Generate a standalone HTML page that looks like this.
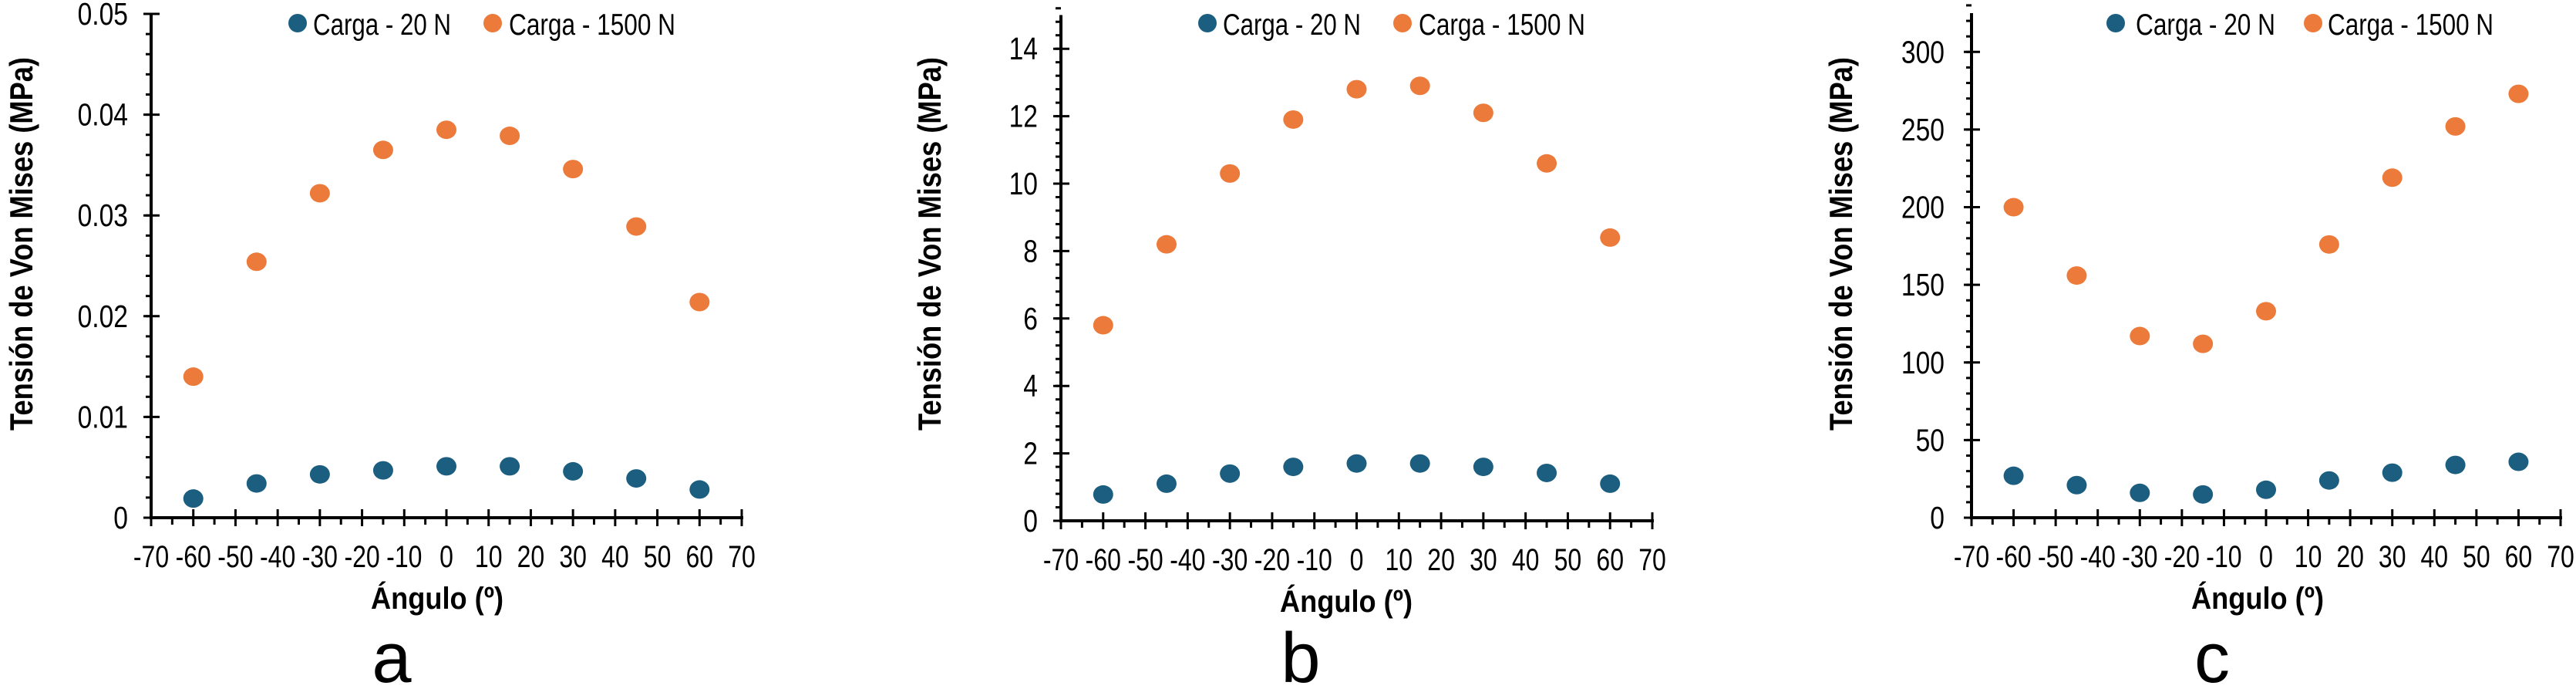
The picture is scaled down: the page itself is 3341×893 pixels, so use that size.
<!DOCTYPE html>
<html><head><meta charset="utf-8"><style>
html,body{margin:0;padding:0;background:#fff;}
svg{display:block;font-family:"Liberation Sans",sans-serif;}
</style></head><body>
<svg id="fig" width="3341" height="893" viewBox="0 0 3341 893"></svg>
<script>
const angles = [-60, -45, -30, -15, 0, 15, 30, 45, 60];
const xTicks = [-70, -60, -50, -40, -30, -20, -10, 0, 10, 20, 30, 40, 50, 60, 70];
const seriesNames = ["Carga - 20 N", "Carga - 1500 N"];
const aLow = [0.0019, 0.0034, 0.0043, 0.0047, 0.0051, 0.0051, 0.0046, 0.0039, 0.0028];
const aHigh = [0.0140, 0.0254, 0.0322, 0.0365, 0.0385, 0.0379, 0.0346, 0.0289, 0.0214];
const aTicks = ["0", "0.01", "0.02", "0.03", "0.04", "0.05"];
const bLow = [0.78, 1.1, 1.4, 1.6, 1.7, 1.7, 1.6, 1.42, 1.1];
const bHigh = [5.8, 8.2, 10.3, 11.9, 12.8, 12.9, 12.1, 10.6, 8.4];
const bTicks = ["0", "2", "4", "6", "8", "10", "12", "14"];
const cLow = [27, 21, 16, 15, 18, 24, 29, 34, 36];
const cHigh = [200, 156, 117, 112, 133, 176, 219, 252, 273];
const cTicks = ["0", "50", "100", "150", "200", "250", "300"];

const NS = "http://www.w3.org/2000/svg";
const svg = document.getElementById("fig");
const COL = ["#1b5e7f", "#ec7a3b"];
function mk(tag, attrs, parent) {
  const e = document.createElementNS(NS, tag);
  for (const k in attrs) e.setAttribute(k, attrs[k]);
  parent.appendChild(e);
  return e;
}
const panels = [
  {id:"a", ax:196, x1:962, y0:671, ymax:0.05, yTop:18, yTicks:aTicks, major:0.01, minor:0.002, low:aLow, high:aHigh,
   leg:[386,406,585,639,660,876], titleX:28, tickR:166, xTitle:567, letterX:508},
  {id:"b", ax:1376, x1:2143, y0:675, ymax:15, yTop:19.5, yTicks:bTicks, major:2, minor:0.4, low:bLow, high:bHigh,
   leg:[1566,1586,1765,1819,1840,2056], titleX:1206, tickR:1346, xTitle:1746, letterX:1687},
  {id:"c", ax:2557, x1:3321, y0:671, ymax:325, yTop:17, yTicks:cTicks, major:50, minor:10, low:cLow, high:cHigh,
   leg:[2744,2770,2951,3000,3019,3234], titleX:2388, tickR:2522, xTitle:2928, letterX:2869}
];
panels.forEach(p => {
  const g = mk("g", {}, svg);
  
  
  const xs = v => p.ax + (v + 70) / 140 * (p.x1 - p.ax);
  const ys = v => p.y0 - v / p.ymax * (p.y0 - p.yTop);
  const ya = mk("line", {x1:p.ax, y1:p.yTop, x2:p.ax, y2:p.y0, stroke:"#000", "stroke-width":4}, g);
  
  
  const xa = mk("line", {x1:p.ax-2, y1:p.y0, x2:p.x1+2, y2:p.y0, stroke:"#000", "stroke-width":4}, g);
  
  
  const nMin = Math.round(p.ymax / p.minor);
  for (let i = 1; i <= nMin; i++) {
    const v = i * p.minor;
    mk("line", {x1:p.ax-7, y1:ys(v), x2:p.ax, y2:ys(v), stroke:"#000", "stroke-width":3}, g);
  }
  p.yTicks.forEach(t => {
    const v = parseFloat(t);
    mk("line", {x1:p.ax-10, y1:ys(v), x2:p.ax+11, y2:ys(v), stroke:"#000", "stroke-width":3}, g);
    const tx = mk("text", {x:0, y:0, "text-anchor":"end", "font-size":41,
      transform:`translate(${p.tickR},${ys(v)+14}) scale(0.82,1)`}, g);
    tx.textContent = t;
    
    
  });
  xTicks.forEach(t => {
    mk("line", {x1:xs(t), y1:p.y0-11, x2:xs(t), y2:p.y0+11, stroke:"#000", "stroke-width":3}, g);
    if (t < 70) mk("line", {x1:xs(t+5), y1:p.y0, x2:xs(t+5), y2:p.y0+9, stroke:"#000", "stroke-width":3}, g);
    const tx = mk("text", {x:0, y:0, "text-anchor":"middle", "font-size":40,
      transform:`translate(${xs(t)},${p.y0+64}) scale(0.8,1)`}, g);
    tx.textContent = t;
    
    
  });
  [p.low, p.high].forEach((arr, si) => {
    arr.forEach((v, i) => {
      const c = mk("ellipse", {cx:xs(angles[i]), cy:ys(v), rx:13, ry:12, fill:COL[si]}, g);
      
      
    });
  });
  const L = p.leg;
  [[L[0], L[1], L[2]], [L[3], L[4], L[5]]].forEach((e, si) => {
    const d = mk("ellipse", {cx:e[0], cy:30, rx:12, ry:12, fill:COL[si]}, g);
    
    
    const t = mk("text", {x:e[1], y:45, "font-size":39, textLength:e[2]-e[1], lengthAdjust:"spacingAndGlyphs"}, g);
    t.textContent = seriesNames[si];
    
    
  });
  const yt = mk("text", {x:0, y:0, "text-anchor":"middle", "font-size":42, "font-weight":"bold",
    transform:`translate(${p.titleX+14},316) rotate(-90)`, textLength:484, lengthAdjust:"spacingAndGlyphs"}, g);
  yt.textContent = "Tensión de Von Mises (MPa)";
  
  
  const xt = mk("text", {x:p.xTitle, y:p.y0+118, "text-anchor":"middle", "font-size":40, "font-weight":"bold",
    textLength:172, lengthAdjust:"spacingAndGlyphs"}, g);
  xt.textContent = "Ángulo (º)";
  
  
  const lt = mk("text", {x:p.letterX, y:884, "text-anchor":"middle", "font-size":92}, g);
  lt.textContent = p.id;
  
  
});
</script>
</body></html>
